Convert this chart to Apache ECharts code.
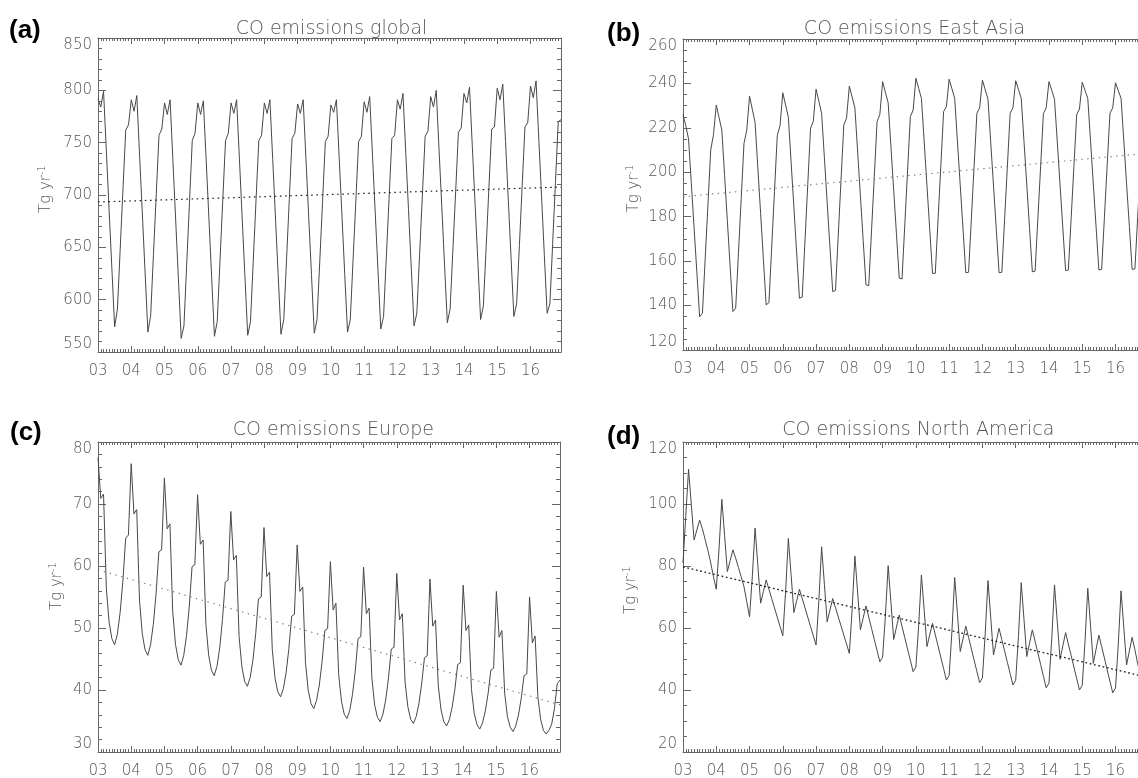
<!DOCTYPE html>
<html>
<head>
<meta charset="utf-8">
<script src="https://cdn.jsdelivr.net/npm/echarts@6/dist/echarts.min.js"></script>
<style>
html,body{margin:0;padding:0;background:#fff;}
#chart{width:1138px;height:778px;}
</style>
</head>
<body>
<div id="chart"></div>
<script>
// ---------- data ----------
const startYear = 2003;
const monthCount = 168;                       // Jan 2003 .. Dec 2016
const endYear = startYear + (monthCount - 1) / 12;
const xTickLabels = ['03','04','05','06','07','08','09','10','11','12','13','14','15','16'];
const panelTitles = ['CO emissions global', 'CO emissions East Asia', 'CO emissions Europe', 'CO emissions North America'];
const panelLetters = ['(a)', '(b)', '(c)', '(d)'];
const yAxisName = 'Tg yr{sup|-1}';
const yMins = [550, 120, 30, 20];
const yMaxs = [850, 260, 80, 120];
const ySteps = [50, 20, 10, 20];
const yMinorSplits = [5, 4, 5, 4];

// monthly CO emissions, Tg/yr (one row per year, Jan..Dec)
const globalCO = [
  792, 784, 799, 743, 686, 630, 574, 591, 648, 705, 762, 767,
  791, 780, 795, 738, 682, 625, 569, 585, 643, 700, 757, 763,
  788, 777, 791, 734, 677, 620, 563, 575, 634, 693, 752, 759,
  788, 777, 790, 734, 678, 621, 565, 579, 637, 695, 752, 759,
  788, 778, 791, 735, 678, 622, 566, 579, 637, 695, 752, 757,
  788, 778, 791, 735, 679, 623, 567, 581, 638, 696, 754, 759,
  787, 778, 791, 735, 679, 624, 568, 581, 637, 694, 751, 756,
  786, 779, 791, 735, 680, 624, 569, 581, 638, 694, 751, 756,
  789, 779, 794, 738, 683, 627, 572, 584, 641, 697, 754, 757,
  791, 782, 797, 741, 686, 630, 575, 587, 643, 700, 756, 761,
  794, 784, 800, 744, 689, 633, 578, 591, 647, 703, 760, 764,
  797, 788, 803, 747, 692, 637, 581, 594, 650, 707, 763, 765,
  802, 791, 806, 751, 695, 639, 584, 596, 652, 709, 765, 769,
  804, 793, 809, 753, 698, 642, 587, 596, 654, 712, 770, 772
];
const eastAsiaCO = [
  226, 221, 215, 195, 175, 155, 135, 136.5, 161, 185.5, 210, 217,
  230.3, 224.7, 219, 198.6, 178.2, 157.7, 137.3, 138.8, 163.5, 188.3, 213, 219,
  234.3, 228.4, 222.4, 201.9, 181.4, 160.8, 140.3, 141.3, 166.4, 191.4, 216.5, 221,
  235.8, 230.3, 224.8, 204.4, 184.1, 163.7, 143.3, 143.8, 169.1, 194.5, 219.8, 223,
  237.4, 232, 226.5, 206.5, 186.4, 166.4, 146.3, 146.8, 171.6, 196.5, 221.3, 224.5,
  238.8, 233.9, 229, 209.1, 189.2, 169.2, 149.3, 149, 173.6, 198.2, 222.8, 226,
  240.8, 236, 231.3, 211.6, 191.8, 172.1, 152.3, 152, 176.3, 200.7, 225, 228,
  242.3, 237.8, 233.3, 213.6, 193.9, 174.2, 154.5, 154.5, 178.8, 203, 227.3, 229.5,
  241.9, 237.6, 233.3, 213.7, 194.1, 174.4, 154.8, 155, 178.8, 202.7, 226.5, 229,
  241.5, 237.2, 232.9, 213.4, 193.9, 174.3, 154.8, 155, 178.8, 202.7, 226.5, 229,
  241.2, 237.3, 233.3, 213.8, 194.3, 174.7, 155.2, 155.5, 179.2, 202.8, 226.5, 229,
  240.8, 236.9, 232.9, 213.6, 194.3, 175, 155.7, 156, 179.3, 202.7, 226, 228.5,
  240.5, 236.9, 233.3, 214, 194.7, 175.3, 156, 156.3, 179.7, 203.1, 226.5, 229,
  240.3, 236.8, 233.3, 214.1, 194.8, 175.6, 156.3, 156.5, 179.7, 202.8, 226, 229
];
const europeCO = [
  77.5, 70.9, 71.6, 56.5, 51.0, 48.3, 47.3, 49.0, 52.5, 57.6, 64.5, 65.0,
  76.5, 68.4, 69.1, 54.5, 49.1, 46.5, 45.6, 47.3, 50.6, 55.6, 62.3, 62.6,
  74.2, 66.0, 66.8, 52.7, 47.4, 44.9, 44.0, 45.6, 48.8, 53.5, 59.9, 60.2,
  71.5, 63.5, 64.2, 50.6, 45.6, 43.2, 42.3, 43.8, 46.8, 51.4, 57.4, 57.7,
  68.8, 61.0, 61.7, 48.6, 43.8, 41.4, 40.6, 42.0, 44.8, 49.1, 54.7, 55.0,
  66.2, 58.3, 59.0, 46.5, 41.9, 39.7, 38.9, 40.2, 42.8, 46.7, 51.9, 52.2,
  63.4, 55.9, 56.6, 44.4, 39.9, 37.8, 37.0, 38.3, 40.8, 44.6, 49.6, 49.9,
  60.7, 52.9, 54.0, 42.5, 38.2, 36.1, 35.4, 36.7, 39.3, 43.1, 48.3, 48.6,
  59.8, 52.3, 53.2, 41.9, 37.6, 35.6, 34.9, 36.1, 38.4, 41.9, 46.6, 46.9,
  58.8, 51.3, 52.3, 41.3, 37.3, 35.3, 34.6, 35.7, 37.8, 41.0, 45.2, 45.5,
  57.9, 50.3, 51.3, 40.7, 36.8, 34.9, 34.2, 35.2, 37.2, 40.1, 44.1, 44.4,
  56.9, 49.6, 50.5, 40.1, 36.2, 34.4, 33.7, 34.7, 36.6, 39.4, 43.2, 43.5,
  55.9, 48.5, 49.6, 39.5, 35.7, 34.0, 33.3, 34.2, 36.0, 38.7, 42.3, 42.6,
  55.0, 47.6, 48.7, 38.9, 35.3, 33.5, 32.9, 33.5, 34.5, 37.0, 41.0, 41.6
];
const northAmericaCO = [
  81, 96, 111.2, 99.8, 88.4, 91.6, 94.8, 92, 88.5, 85, 81, 76.5,
  72.5, 85.5, 101.5, 89.9, 78.2, 81.7, 85.2, 82.5, 79.5, 76.5, 73.3, 68.5,
  63.6, 76.5, 92.2, 80.1, 68, 71.8, 75.5, 72.5, 69.5, 66.5, 63.5, 60.5,
  57.5, 71.6, 88.9, 77, 65, 68.8, 72.5, 69.5, 66.5, 63.5, 60.5, 57.5,
  54.5, 68.8, 86.2, 74.1, 62, 65.8, 69.5, 66.6, 63.6, 60.7, 57.7, 54.8,
  51.8, 65.9, 83.2, 71.3, 59.4, 63.3, 67.1, 63.5, 59.9, 56.3, 52.7, 49.1,
  50.6, 63.9, 80.1, 68.2, 56.3, 60.3, 64.2, 60.5, 56.9, 53.2, 49.6, 45.9,
  47.4, 60.8, 77.1, 65.6, 54, 57.8, 61.5, 57.8, 54.2, 50.5, 46.9, 43.2,
  44.7, 58.9, 76.3, 64.4, 52.4, 56.5, 60.6, 57, 53.3, 49.7, 46, 42.4,
  43.9, 58, 75.3, 63.3, 51.3, 55.6, 59.9, 56.2, 52.6, 48.9, 45.3, 41.6,
  43.1, 57.3, 74.6, 62.7, 50.8, 55.1, 59.4, 55.7, 51.9, 48.2, 44.4, 40.7,
  42.2, 56.5, 73.9, 61.9, 49.9, 54.2, 58.5, 54.8, 51.1, 47.4, 43.7, 40,
  41.5, 55.6, 72.8, 60.7, 48.6, 53.2, 57.7, 54, 50.3, 46.5, 42.8, 39.1,
  40.6, 54.7, 72, 60.1, 48.1, 52.6, 57, 53, 48.5, 45, 42, 39.5
];
// linear trends: value at start (Jan 2003) and end (Dec 2016)
const trendYears = [startYear, endYear];
const globalTrend = [693.3, 707.6];
const eastAsiaTrend = [189, 208.5];
const europeTrend = [59.4, 37.6];
const northAmericaTrend = [79.7, 44.2];

// ---------- layout / style ----------
const series4 = [globalCO, eastAsiaCO, europeCO, northAmericaCO];
const trends4 = [globalTrend, eastAsiaTrend, europeTrend, northAmericaTrend];
const grids = [
  {left: 98,  top: 38,  width: 463, height: 314},
  {left: 683, top: 39,  width: 463, height: 311},
  {left: 98,  top: 442, width: 462, height: 310},
  {left: 683, top: 442, width: 463, height: 310}
];
const titlePos = [[326.5, 15], [909.5, 15], [328.3, 416], [913.3, 416]];
const letterPos = [[9, 30.5], [607, 34], [10, 432.5], [607, 436.5]];
const nameGaps = [43, 40, 32, 43];
const namePads = [12, 12, 22, 14];
const trendStyles = [
  {color: '#222', width: 1.2, type: [1.6, 3.6]},
  {color: '#777', width: 1.1, type: [1.4, 4.4]},
  {color: '#777', width: 1.1, type: [1.4, 4.6]},
  {color: '#222', width: 1.3, type: [1.8, 2.6]}
];
const axisColor = '#666';
const textColor = '#555';
const fontFam = '"DejaVu Sans", Verdana, sans-serif';

function monthly(vals) {
  return vals.map((v, i) => [startYear + i / 12, v]);
}
function xLabel(v) {
  const k = Math.round(v - startYear);
  return Math.abs(v - startYear - k) < 1e-6 && xTickLabels[k] ? xTickLabels[k] : '';
}

const xAxes = [], yAxes = [], series = [], titles = [], graphics = [];
grids.forEach((g, i) => {
  const common = {
    type: 'value', gridIndex: i, min: startYear, max: endYear, interval: 1,
    axisLine: {show: true, onZero: false, lineStyle: {color: axisColor, width: 1}},
    axisTick: {show: true, inside: true, length: 6, lineStyle: {color: axisColor, width: 1}},
    minorTick: {show: true, splitNumber: 12, length: 3, lineStyle: {color: axisColor, width: 1}},
    splitLine: {show: false}, minorSplitLine: {show: false}
  };
  xAxes.push(Object.assign({}, common, {
    position: 'bottom',
    axisLabel: {show: true, margin: 12, color: textColor, fontFamily: fontFam, fontSize: 15, fontWeight: 200, formatter: xLabel}
  }));
  xAxes.push(Object.assign({}, common, {position: 'top', axisLabel: {show: false}}));

  const ycommon = {
    type: 'value', gridIndex: i, min: yMins[i], max: yMaxs[i], interval: ySteps[i],
    axisLine: {show: true, onZero: false, lineStyle: {color: axisColor, width: 1}},
    axisTick: {show: true, inside: true, length: 8, lineStyle: {color: axisColor, width: 1}},
    minorTick: {show: true, splitNumber: yMinorSplits[i], length: 4, lineStyle: {color: axisColor, width: 1}},
    splitLine: {show: false}, minorSplitLine: {show: false}
  };
  yAxes.push(Object.assign({}, ycommon, {
    position: 'left',
    axisLabel: {show: true, margin: 6, color: textColor, fontFamily: fontFam, fontSize: 15, fontWeight: 200,
      verticalAlignMinLabel: 'bottom', verticalAlignMaxLabel: 'top'},
    name: yAxisName, nameLocation: 'middle', nameGap: nameGaps[i], nameRotate: 90, nameMoveOverlap: false,
    nameTextStyle: {color: textColor, fontFamily: fontFam, fontSize: 15, fontWeight: 200, padding: [0, 0, 0, namePads[i]],
      rich: {sup: {fontSize: 10, color: textColor, fontFamily: fontFam, fontWeight: 200, verticalAlign: 'top', lineHeight: 18}}}
  }));
  yAxes.push(Object.assign({}, ycommon, {position: 'right', axisLabel: {show: false}}));

  series.push({
    type: 'line', xAxisIndex: 2 * i, yAxisIndex: 2 * i, data: monthly(series4[i]),
    showSymbol: false, symbol: 'none', silent: true, animation: false,
    lineStyle: {color: '#484848', width: 1}
  });
  series.push({
    type: 'line', xAxisIndex: 2 * i, yAxisIndex: 2 * i,
    data: trendYears.map((x, k) => [x, trends4[i][k]]),
    showSymbol: false, symbol: 'none', silent: true, animation: false,
    lineStyle: trendStyles[i]
  });

  titles.push({
    text: panelTitles[i], left: titlePos[i][0], top: titlePos[i][1], textAlign: 'center',
    textStyle: {color: textColor, fontFamily: fontFam, fontSize: 19, fontWeight: 200}
  });
  graphics.push({
    type: 'text', x: letterPos[i][0], y: letterPos[i][1],
    style: {text: panelLetters[i], fill: '#000', font: 'bold 26px "Liberation Sans", Arial, sans-serif', verticalAlign: 'middle', align: 'left'}
  });
});

const chart = echarts.init(document.getElementById('chart'), null, {renderer: 'canvas', width: 1138, height: 778});
chart.setOption({
  animation: false,
  backgroundColor: '#fff',
  title: titles,
  grid: grids.map(g => Object.assign({outerBoundsMode: 'none', containLabel: false}, g)),
  xAxis: xAxes,
  yAxis: yAxes,
  series: series,
  graphic: graphics
});
</script>
</body>
</html>
